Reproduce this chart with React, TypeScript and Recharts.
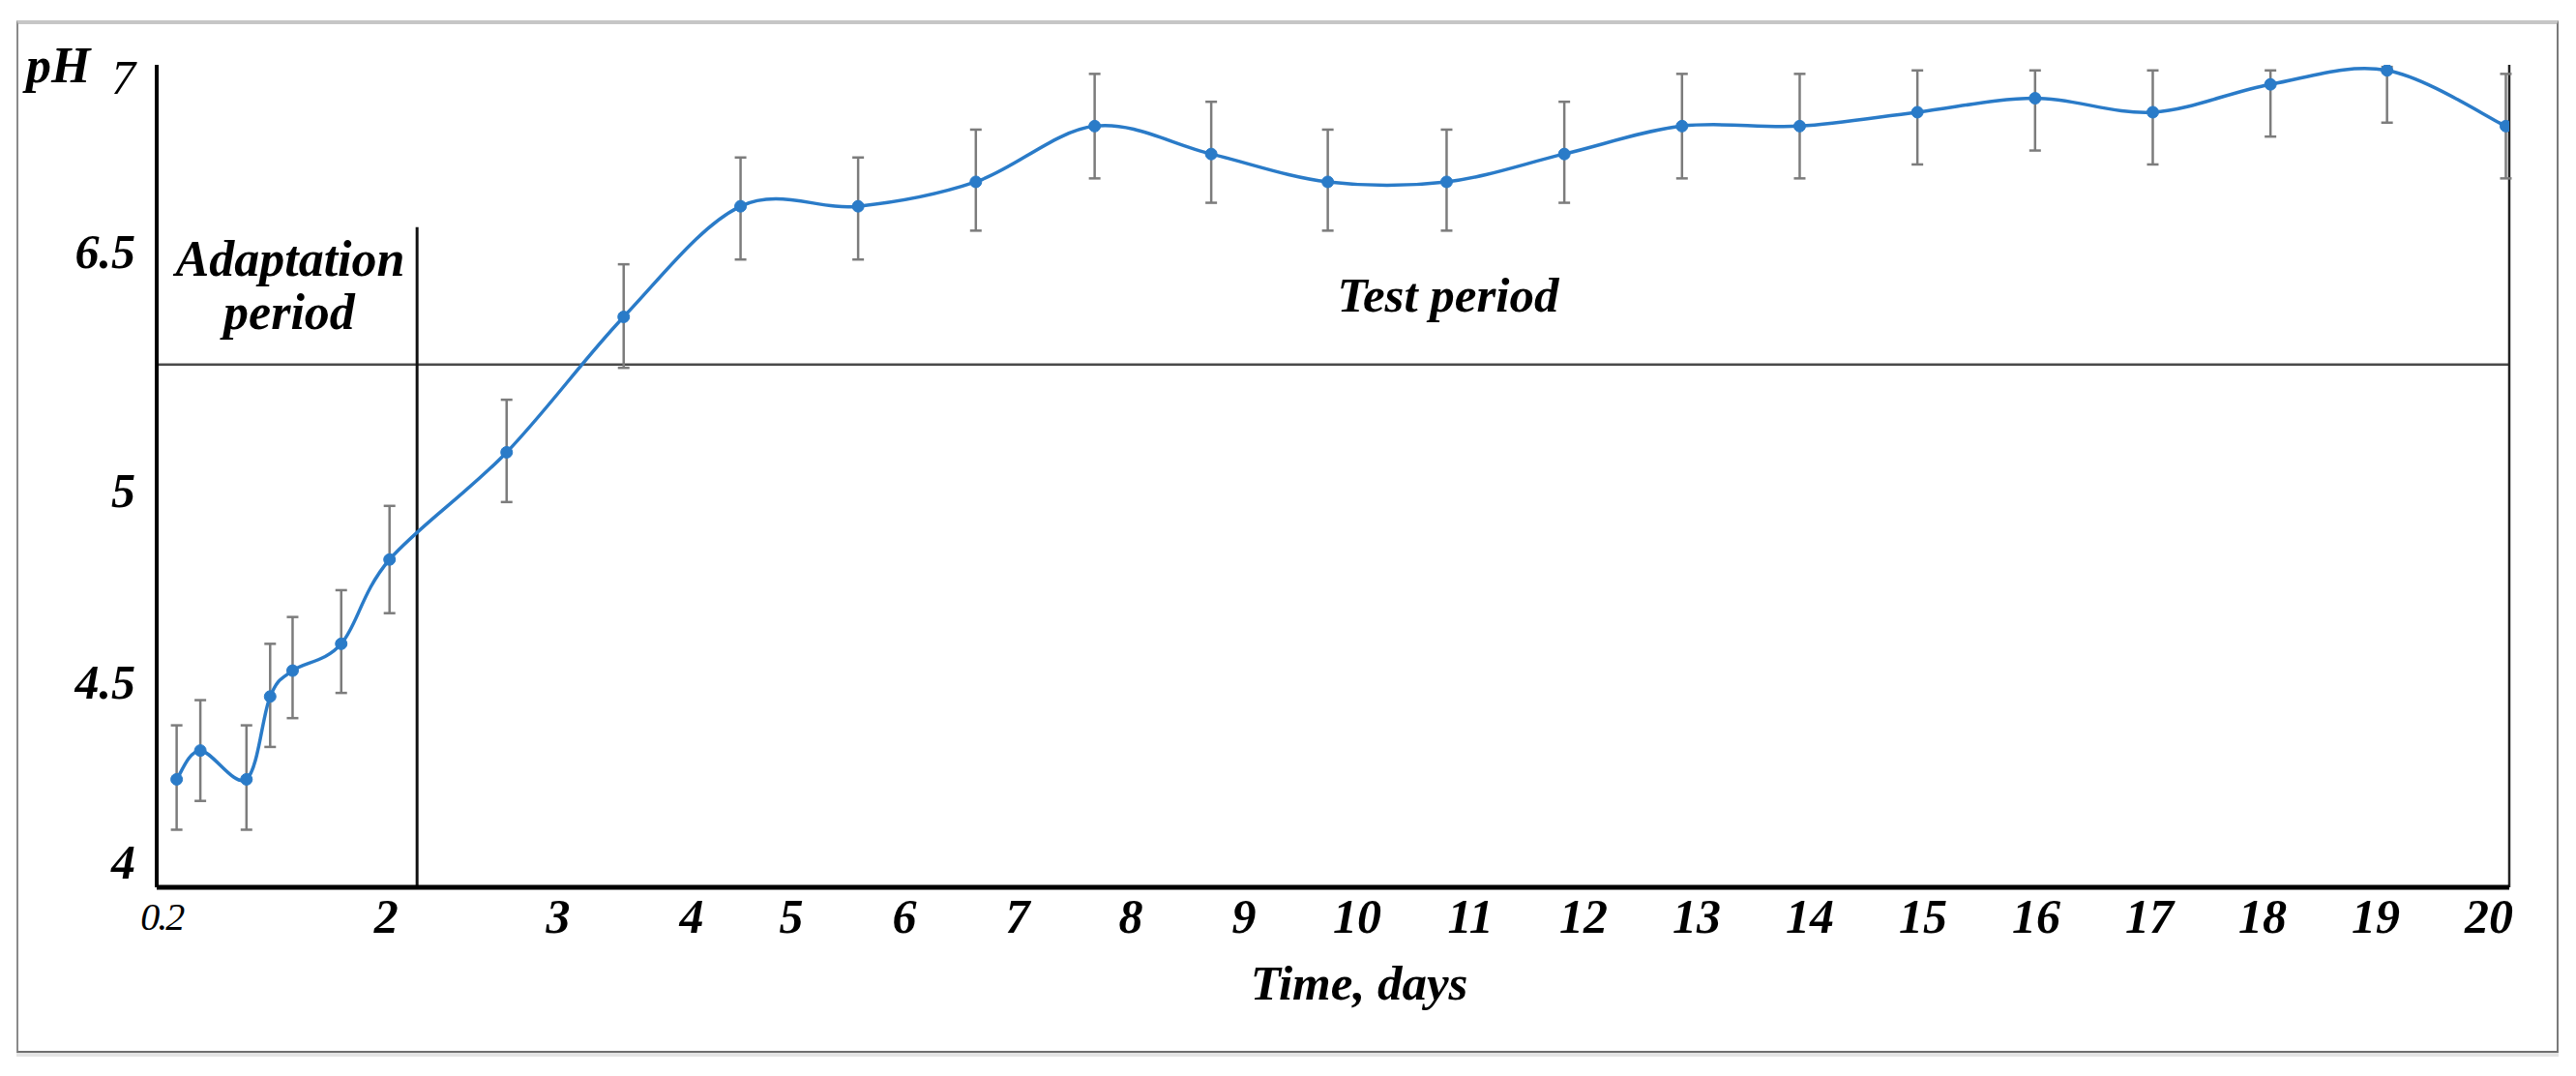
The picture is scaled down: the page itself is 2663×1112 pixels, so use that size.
import React from 'react';
import { LineChart, Line, XAxis, YAxis, ErrorBar, ReferenceLine } from 'recharts';

// pH readings taken off the figure (mean, lower and upper end of the error bar)
const days = [
  0.32, 0.51, 0.88, 1.07, 1.25, 1.64, 2.02, 2.7, 3.49, 4.49, 5.59, 6.63, 7.68,
  8.71, 9.74, 10.79, 11.83, 12.87, 13.91, 14.95, 15.99, 17.03, 18.07, 19.1, 20.15,
];
const phMean = [
  4.23, 4.31, 4.23, 4.46, 4.53, 4.6, 4.82, 5.24, 6.09, 6.63, 6.63, 6.7, 6.86,
  6.78, 6.7, 6.7, 6.78, 6.86, 6.86, 6.9, 6.94, 6.9, 6.98, 7.02, 6.86,
];
const phLow = [
  4.09, 4.17, 4.09, 4.32, 4.4, 4.47, 4.68, 4.97, 5.77, 6.45, 6.45, 6.56, 6.71,
  6.64, 6.56, 6.56, 6.64, 6.71, 6.71, 6.75, 6.79, 6.75, 6.83, 6.87, 6.71,
];
const phHigh = [
  4.38, 4.45, 4.38, 4.6, 4.67, 4.74, 4.96, 5.57, 6.42, 6.77, 6.77, 6.85, 7.01,
  6.93, 6.85, 6.85, 6.93, 7.01, 7.01, 7.02, 7.02, 7.02, 7.02, 7.03, 7.01,
];

const xTicks = [0.2, 2, 3, 4, 5, 6, 7, 8, 9, 10, 11, 12, 13, 14, 15, 16, 17, 18, 19, 20];
const yTicks = [4, 4.5, 5, 6.5, 7];

// the printed axes are uneven: relative spacing of the labelled stops
const X_STOPS = [0.2, 2, 3, 4, 5, 20];
const X_LAYOUT = [167, 399, 577, 715, 818, 2573];
const Y_STOPS = [4, 4.5, 5, 6.5, 7];
const Y_LAYOUT = [891, 705, 507, 260, 80];

const ADAPTATION_END = 2.18;
const DIVIDER_PH = 5.79;
const X_DOMAIN = [0.16, 20.18];
const Y_DOMAIN = [3.93, 7.036];

const SERIF = "'Liberation Serif', 'Times New Roman', serif";
const BLUE = '#2a7bc8';

// piecewise linear scale, d3-like so recharts can use it
function makeWarpScale(stops: number[], layout: number[]) {
  let dom = [stops[0], stops[stops.length - 1]];
  let rng = [0, 1];
  const toLayout = (v: number) => {
    let i = 0;
    while (i < stops.length - 2 && v > stops[i + 1]) i++;
    const t = (v - stops[i]) / (stops[i + 1] - stops[i]);
    return layout[i] + t * (layout[i + 1] - layout[i]);
  };
  const scale: any = (v: number) => {
    const a = toLayout(dom[0]);
    const b = toLayout(dom[1]);
    return rng[0] + ((toLayout(Number(v)) - a) / (b - a)) * (rng[1] - rng[0]);
  };
  scale.domain = (d?: number[]) => {
    if (d === undefined) return dom.slice();
    dom = d.map(Number);
    return scale;
  };
  scale.range = (r?: number[]) => {
    if (r === undefined) return rng.slice();
    rng = r.map(Number);
    return scale;
  };
  scale.copy = () => makeWarpScale(stops, layout).domain(dom).range(rng);
  scale.ticks = () => stops.slice();
  scale.tickFormat = () => (v: number) => String(v);
  return scale;
}

// Excel-like smoothed line (Catmull-Rom through every point)
const smoothCurve = (context: any) => {
  let pts: number[][] = [];
  return {
    areaStart() {},
    areaEnd() {},
    lineStart() {
      pts = [];
    },
    point(x: number, y: number) {
      pts.push([+x, +y]);
    },
    lineEnd() {
      if (!pts.length) return;
      context.moveTo(pts[0][0], pts[0][1]);
      for (let i = 0; i < pts.length - 1; i++) {
        const p0 = pts[Math.max(i - 1, 0)];
        const p1 = pts[i];
        const p2 = pts[i + 1];
        const p3 = pts[Math.min(i + 2, pts.length - 1)];
        context.bezierCurveTo(
          p1[0] + (p2[0] - p0[0]) / 6,
          p1[1] + (p2[1] - p0[1]) / 6,
          p2[0] - (p3[0] - p1[0]) / 6,
          p2[1] - (p3[1] - p1[1]) / 6,
          p2[0],
          p2[1]
        );
      }
    },
  };
};

const chartData = days.map((d, i) => ({
  day: d,
  ph: phMean[i],
  err: [+(phMean[i] - phLow[i]).toFixed(3), +(phHigh[i] - phMean[i]).toFixed(3)],
}));

const YTick = (props: any) => {
  const { x, y, payload } = props;
  const thin = payload.value === 7;
  return (
    <text
      x={x}
      y={y}
      textAnchor="end"
      dominantBaseline="central"
      fontFamily={SERIF}
      fontStyle="italic"
      fontWeight={thin ? 'normal' : 'bold'}
      fontSize={50}
      fill="#000"
    >
      {String(payload.value)}
    </text>
  );
};

const XTick = (props: any) => {
  const { x, y, payload } = props;
  const small = payload.value === 0.2;
  return (
    <text
      x={x}
      y={y + 22}
      textAnchor="middle"
      dominantBaseline="central"
      fontFamily={SERIF}
      fontStyle="italic"
      fontWeight={small ? 'normal' : 'bold'}
      fontSize={small ? 40 : 50}
      letterSpacing={small ? -2 : 0}
      fill="#000"
    >
      {String(payload.value)}
    </text>
  );
};

export default function App() {
  const xScale = makeWarpScale(X_STOPS, X_LAYOUT);
  const yScale = makeWarpScale(Y_STOPS, Y_LAYOUT);

  return (
    <div style={{ position: 'absolute', left: 0, top: 0, width: 2663, height: 1112, background: '#fff' }}>
      <div
        style={{
          position: 'absolute',
          left: 17,
          top: 21,
          width: 2628,
          height: 1067,
          boxSizing: 'border-box',
          borderLeft: '2px solid #8a8a8a',
          borderRight: '2px solid #7a7a7a',
          borderBottom: '2px solid #6f6f6f',
          borderTop: '4px solid #c6c6c6',
          boxShadow: '0 4px 0 #e4e4e4',
        }}
      />
      <div style={{ position: 'absolute', left: 0, top: 0 }}>
        <LineChart
          width={2663}
          height={1112}
          data={chartData}
          margin={{ top: 67, right: 69, bottom: 95, left: 62 }}
        >
          <XAxis
            dataKey="day"
            type="number"
            scale={xScale}
            domain={X_DOMAIN}
            allowDataOverflow
            ticks={xTicks}
            interval={0}
            height={100}
            axisLine={{ stroke: '#000', strokeWidth: 5 }}
            tickLine={false}
            tick={<XTick />}
          />
          <YAxis
            type="number"
            scale={yScale}
            domain={Y_DOMAIN}
            allowDataOverflow
            ticks={yTicks}
            interval={0}
            width={100}
            tickMargin={16}
            axisLine={{ stroke: '#000', strokeWidth: 4 }}
            tickLine={false}
            tick={<YTick />}
          />
          <ReferenceLine y={DIVIDER_PH} stroke="#4a4a4a" strokeWidth={2.5} ifOverflow="visible" />
          <ReferenceLine
            segment={[
              { x: ADAPTATION_END, y: Y_DOMAIN[0] },
              { x: ADAPTATION_END, y: 6.57 },
            ]}
            stroke="#111"
            strokeWidth={3}
            ifOverflow="visible"
          />
          <ReferenceLine x={X_DOMAIN[1]} stroke="#222" strokeWidth={2.5} ifOverflow="visible" />
          <Line
            dataKey="ph"
            type={smoothCurve as any}
            stroke={BLUE}
            strokeWidth={3.5}
            dot={{ r: 6, fill: BLUE, stroke: BLUE, strokeWidth: 1 }}
            activeDot={false}
            isAnimationActive={false}
          >
            <ErrorBar dataKey="err" direction="y" width={6} stroke="#7c7c7c" strokeWidth={2.5} />
          </Line>
        </LineChart>
      </div>
      <svg
        width={2663}
        height={1112}
        style={{ position: 'absolute', left: 0, top: 0, pointerEvents: 'none' }}
      >
        <g fontFamily={SERIF} fontStyle="italic" fontWeight="bold" fill="#000">
          <text x={27} y={85} fontSize={52}>
            pH
          </text>
          <text x={300} y={285} fontSize={52} textAnchor="middle">
            Adaptation
          </text>
          <text x={299} y={340} fontSize={52} textAnchor="middle">
            period
          </text>
          <text x={1497} y={322} fontSize={51} textAnchor="middle">
            Test period
          </text>
          <text x={1405} y={1033} fontSize={51} textAnchor="middle">
            Time, days
          </text>
        </g>
      </svg>
    </div>
  );
}
